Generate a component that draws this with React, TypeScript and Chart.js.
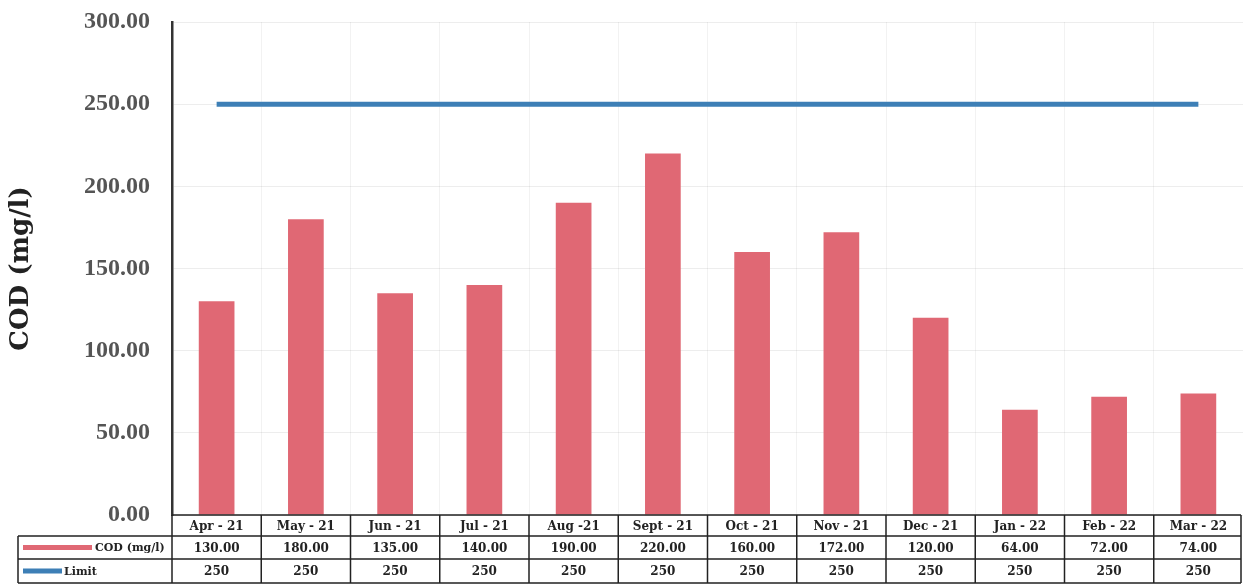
import React, { useEffect, useRef } from "react";
import { Chart, registerables } from "chart.js";

Chart.register(...registerables);

const categories = ["Apr - 21", "May - 21", "Jun - 21", "Jul - 21", "Aug -21", "Sept - 21", "Oct - 21", "Nov - 21", "Dec - 21", "Jan - 22", "Feb - 22", "Mar - 22"];
const codValues = [130, 180, 135, 140, 190, 220, 160, 172, 120, 64, 72, 74];
const limitValues = [250, 250, 250, 250, 250, 250, 250, 250, 250, 250, 250, 250];
const yTicks = [0, 50, 100, 150, 200, 250, 300];

const BAR_COLOR = "#e06874";
const LINE_COLOR = "#3d7fb6";

const tablePlugin = {
  id: "dataTable",
  afterDraw(chart: any) {
    const ctx = chart.ctx;
    const x = chart.scales.x;
    const area = chart.chartArea;
    const n = categories.length;
    const catW = (x.getPixelForValue(1) - x.getPixelForValue(0));
    const r0 = area.bottom;
    const r1 = r0 + 21;
    const r2 = r1 + 23;
    const r3 = r2 + 24;
    const leftEdge = 18;
    const rightEdge = Math.min(chart.width - 2, x.getPixelForValue(n - 1) + catW / 2);
    ctx.save();
    ctx.strokeStyle = "#222";
    ctx.lineWidth = 1.5;
    ctx.beginPath();
    ctx.moveTo(area.left, r0); ctx.lineTo(rightEdge, r0);
    ctx.moveTo(leftEdge, r1); ctx.lineTo(rightEdge, r1);
    ctx.moveTo(leftEdge, r2); ctx.lineTo(rightEdge, r2);
    ctx.moveTo(leftEdge, r3); ctx.lineTo(rightEdge, r3);
    ctx.moveTo(leftEdge, r1); ctx.lineTo(leftEdge, r3);
    for (let i = 0; i <= n; i++) {
      const px = i < n ? x.getPixelForValue(i) - catW / 2 : rightEdge;
      ctx.moveTo(px, r0); ctx.lineTo(px, r3);
    }
    ctx.stroke();

    ctx.font = "bold 12px 'DejaVu Serif'";
    ctx.fillStyle = "#222";
    ctx.textAlign = "center";
    ctx.textBaseline = "middle";
    for (let i = 0; i < n; i++) {
      const cx = x.getPixelForValue(i);
      ctx.fillText(categories[i], cx, (r0 + r1) / 2 + 1);
      ctx.fillText(codValues[i].toFixed(2), cx, (r1 + r2) / 2 + 1);
      ctx.fillText(String(limitValues[i]), cx, (r2 + r3) / 2 + 1);
    }
    ctx.lineWidth = 5;
    ctx.strokeStyle = BAR_COLOR;
    ctx.beginPath();
    ctx.moveTo(23, (r1 + r2) / 2); ctx.lineTo(92, (r1 + r2) / 2);
    ctx.stroke();
    ctx.strokeStyle = LINE_COLOR;
    ctx.beginPath();
    ctx.moveTo(23, (r2 + r3) / 2); ctx.lineTo(62, (r2 + r3) / 2);
    ctx.stroke();
    ctx.textAlign = "left";
    ctx.font = "bold 11px 'DejaVu Serif'";
    ctx.fillText("COD (mg/l)", 95, (r1 + r2) / 2 + 1);
    ctx.fillText("Limit", 64, (r2 + r3) / 2 + 1);
    ctx.restore();
  },
};

export default function App() {
  const ref = useRef<HTMLCanvasElement | null>(null);
  useEffect(() => {
    if (!ref.current) return;
    const chart = new Chart(ref.current, {
      type: "bar",
      data: {
        labels: categories,
        datasets: [
          {
            type: "line",
            label: "Limit",
            data: limitValues,
            borderColor: LINE_COLOR,
            backgroundColor: LINE_COLOR,
            borderWidth: 5,
            pointRadius: 0,
            tension: 0,
            order: 0,
          } as any,
          {
            type: "bar",
            label: "COD (mg/l)",
            data: codValues,
            backgroundColor: BAR_COLOR,
            barPercentage: 0.4,
            categoryPercentage: 1,
            order: 1,
          },
        ],
      },
      options: {
        animation: false,
        responsive: false,
        maintainAspectRatio: false,
        layout: { padding: { top: 22, right: 0, bottom: 73, left: 0 } },
        plugins: { legend: { display: false }, tooltip: { enabled: false } },
        scales: {
          x: {
            offset: true,
            ticks: { display: false },
            grid: { display: true, color: "rgba(0,0,0,0.05)", drawTicks: false, offset: true },
            border: { display: false },
          },
          y: {
            min: 0,
            max: 300,
            afterBuildTicks: (scale: any) => {
              scale.ticks = yTicks.map((v) => ({ value: v }));
            },
            afterFit: (scale: any) => {
              scale.width = 172;
              scale.paddingTop = 0;
              scale.paddingBottom = 0;
            },
            ticks: {
              padding: 22,
              color: "#555",
              font: { family: "'Liberation Serif'", weight: "bold", size: 24 },
              callback: (v: any) => Number(v).toFixed(2),
            },
            grid: { color: "rgba(0,0,0,0.07)", drawTicks: false },
            border: { display: true, color: "#333", width: 2.5 },
            title: {
              display: true,
              text: "COD (mg/l)",
              color: "#222",
              font: { family: "'DejaVu Serif'", weight: "bold", size: 26 },
              padding: { top: 6, bottom: 4 },
            },
          },
        },
      },
      plugins: [tablePlugin],
    });
    return () => chart.destroy();
  }, []);
  return (
    <div style={{ position: "absolute", left: 0, top: 0, width: 1243, height: 588, background: "#fff" }}>
      <canvas ref={ref} width={1243} height={588} style={{ display: "block" }} />
    </div>
  );
}
